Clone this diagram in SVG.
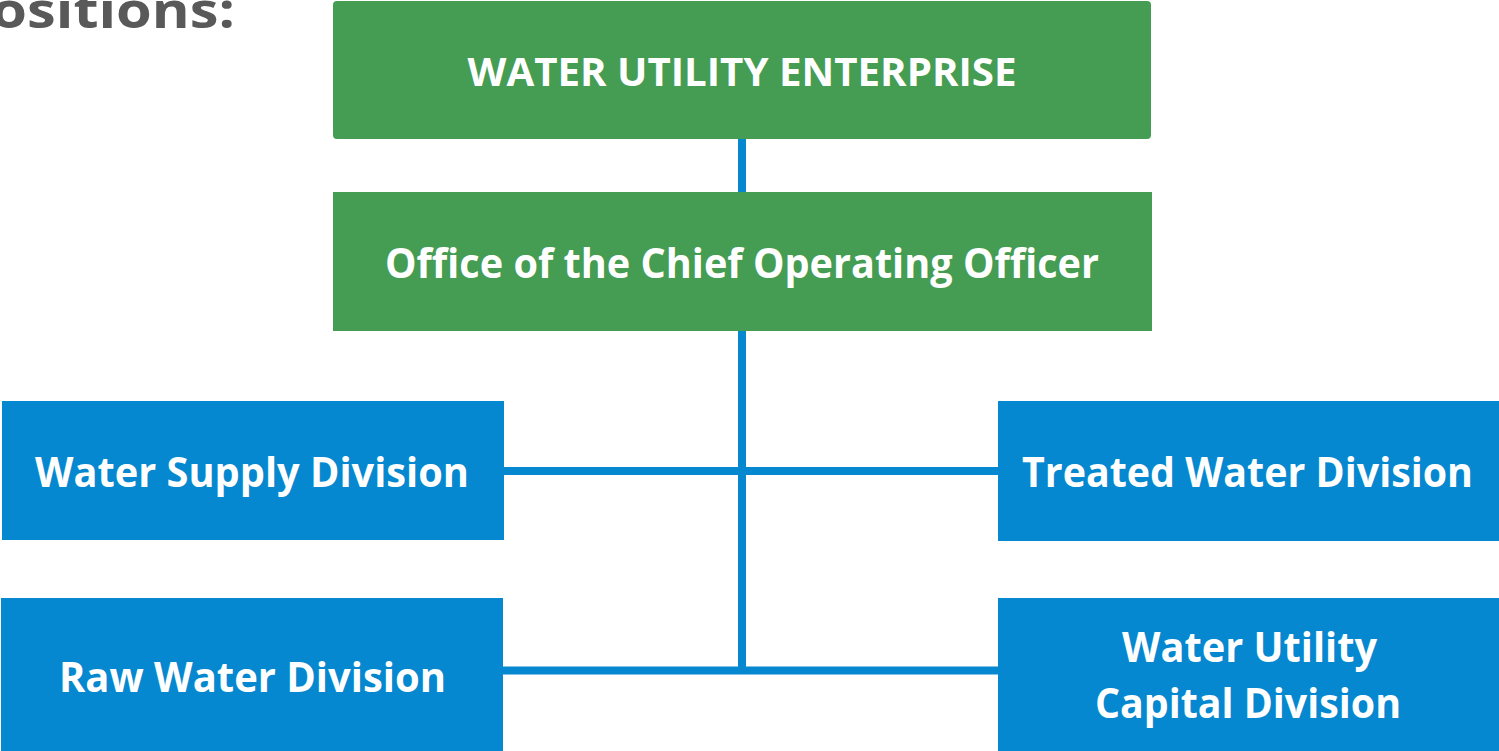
<svg xmlns="http://www.w3.org/2000/svg" width="1499" height="751" viewBox="0 0 1499 751">
<style>
.green{fill:#459C53}
.blue{fill:#0588CF}
.t{font-family:"Open Sans","Liberation Sans",sans-serif;font-weight:bold;fill:#FFFFFF;text-anchor:middle}
.c{stroke:#0588CF;stroke-width:8;fill:none}
</style>
<rect width="1499" height="751" fill="#FFFFFF"/>
<text x="235" y="28" font-family="Open Sans, Liberation Sans, sans-serif" font-weight="bold" font-size="50" fill="#595959" text-anchor="end" textLength="280" lengthAdjust="spacingAndGlyphs">Positions:</text>
<g id="connectors">
<line class="c" x1="742" y1="139" x2="742" y2="192"/>
<line class="c" x1="742" y1="331" x2="742" y2="674"/>
<line class="c" x1="504" y1="471" x2="998" y2="471"/>
<line class="c" x1="503" y1="670.5" x2="998" y2="670.5"/>
</g>
<g id="enterprise">
<rect class="green" x="333" y="1" width="818" height="138" rx="4"/>
<text class="t" x="742" y="86" font-size="40" textLength="549" lengthAdjust="spacingAndGlyphs">WATER UTILITY ENTERPRISE</text>
</g>
<g id="coo">
<rect class="green" x="333" y="192" width="819" height="139"/>
<text class="t" x="742" y="278" font-size="42" textLength="714" lengthAdjust="spacingAndGlyphs">Office of the Chief Operating Officer</text>
</g>
<g id="water-supply">
<rect class="blue" x="2" y="401" width="502" height="139"/>
<text class="t" x="252" y="487" font-size="42" textLength="434" lengthAdjust="spacingAndGlyphs">Water Supply Division</text>
</g>
<g id="treated-water">
<rect class="blue" x="998" y="401" width="501" height="140"/>
<text class="t" x="1247.5" y="487" font-size="42" textLength="451" lengthAdjust="spacingAndGlyphs">Treated Water Division</text>
</g>
<g id="raw-water">
<rect class="blue" x="1" y="598" width="502" height="153"/>
<text class="t" x="252.5" y="692" font-size="42" textLength="387" lengthAdjust="spacingAndGlyphs">Raw Water Division</text>
</g>
<g id="capital">
<rect class="blue" x="998" y="598" width="501" height="153"/>
<text class="t" x="1249.5" y="662" font-size="42" textLength="255" lengthAdjust="spacingAndGlyphs">Water Utility</text>
<text class="t" x="1248" y="718" font-size="42" textLength="306" lengthAdjust="spacingAndGlyphs">Capital Division</text>
</g>
</svg>
